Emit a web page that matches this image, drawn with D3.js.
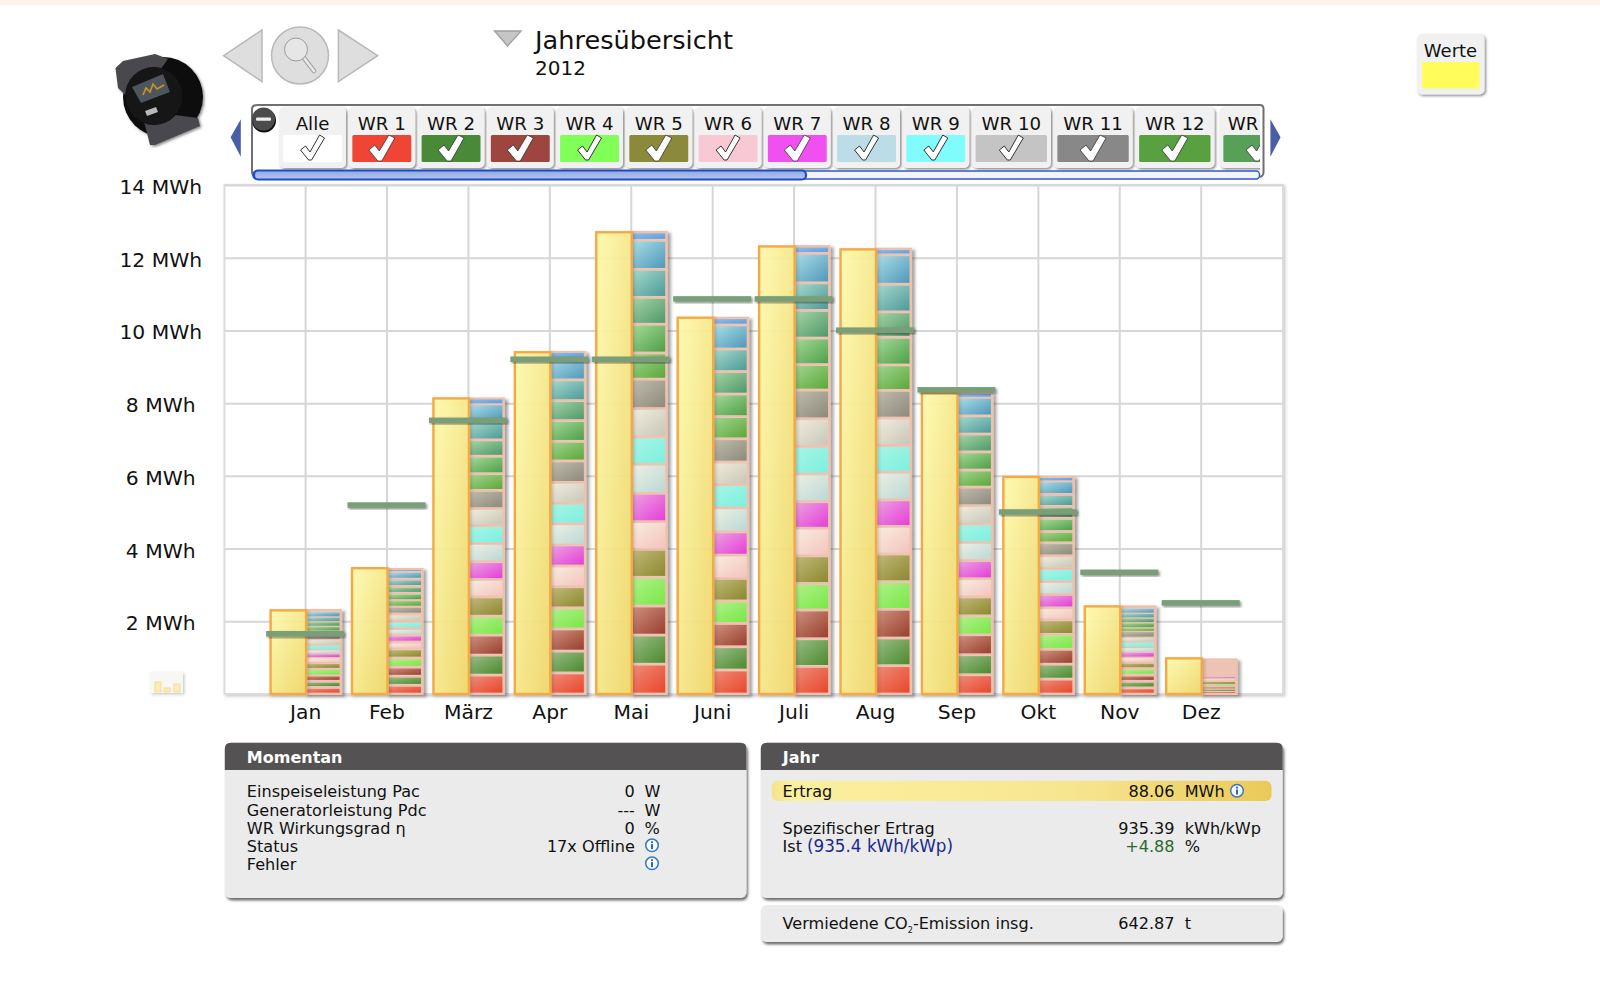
<!DOCTYPE html>
<html><head><meta charset="utf-8">
<script src="https://cdn.jsdelivr.net/npm/d3@7"></script>
<style>
html,body{margin:0;padding:0;background:#fff;overflow:hidden}
svg{display:block}
text{font-family:"DejaVu Sans",sans-serif;fill:#111}
</style></head><body>
<div id="chart"></div>
<script>
const months=["Jan","Feb","März","Apr","Mai","Juni","Juli","Aug","Sep","Okt","Nov","Dez"];
const yTicks=[2,4,6,8,10,12,14];
const totals=[2.30,3.46,8.13,9.40,12.70,10.35,12.31,12.23,8.28,5.97,2.41,0.98];
const targets=[1.65,5.19,7.52,9.20,9.20,10.86,10.86,10.00,8.36,5.00,3.34,2.50];
const wr1 =[.18,.24,.52,.58,.82,.66,.76,.78,.53,.41,.17,.07];
const wr2 =[.17,.25,.55,.60,.80,.64,.76,.76,.55,.41,.18,.07];
const wr3 =[.17,.25,.55,.61,.80,.64,.79,.79,.55,.41,.17,.06];
const wr4 =[.16,.25,.52,.58,.79,.62,.73,.76,.52,.41,.18,.06];
const wr5 =[.18,.25,.53,.58,.77,.62,.76,.76,.52,.40,.17,.09];
const wr6 =[.14,.19,.48,.57,.76,.64,.76,.76,.50,.33,.14,.07];
const wr7 =[.11,.19,.49,.58,.78,.64,.73,.73,.50,.37,.14,.06];
const wr8 =[.11,.18,.50,.58,.80,.66,.76,.76,.50,.35,.13,.05];
const wr9 =[.13,.20,.49,.57,.75,.64,.76,.73,.51,.36,.15,.05];
const wr10=[.15,.20,.47,.57,.78,.62,.76,.76,.50,.35,.13,.05];
const wr11=[.14,.21,.50,.59,.81,.64,.79,.76,.51,.36,.16,.05];
const wr12=[.09,.16,.46,.54,.72,.61,.70,.70,.47,.31,.10,.05];
const wr13=[.13,.20,.48,.57,.79,.62,.73,.76,.50,.36,.14,.05];
const wr14=[.13,.19,.45,.55,.74,.62,.76,.70,.49,.33,.13,.05];
const wr15=[.13,.20,.51,.57,.77,.62,.76,.76,.50,.33,.13,.05];
const wr16=[.14,.21,.48,.61,.80,.66,.81,.81,.51,.37,.14,.05];
const wr17=[.05,.07,.15,.16,.23,.20,.20,.17,.12,.11,.05,.02];
const allSeries=[wr1,wr2,wr3,wr4,wr5,wr6,wr7,wr8,wr9,wr10,wr11,wr12,wr13,wr14,wr15,wr16,wr17];
const segLight=["#ee8a78","#98bc86","#cf8e7e","#b0f08a","#c0b878","#f8ece0","#eca0e0","#eaf0e4","#a8f4e4","#f0ecdc","#c0bcac","#a0d490","#a4d898","#a4d4a4","#a4d8cc","#a8dce4","#8cc0ec"];
const segDark=["#e8472c","#4c8a2e","#98402e","#78e846","#8c8830","#f4c4bc","#e440d8","#bcd8d4","#7cf0e0","#c8c8b8","#8c8a7c","#5ca838","#4ea048","#50986a","#4e9a98","#5098bc","#5c9ce0"];
const tabLabels=["Alle","WR 1","WR 2","WR 3","WR 4","WR 5","WR 6","WR 7","WR 8","WR 9","WR 10","WR 11","WR 12","WR 13"];
const tabShort=["Alle","WR 1","WR 2","WR 3","WR 4","WR 5","WR 6","WR 7","WR 8","WR 9","WR 10","WR 11","WR 12","WR"];
const tabColors=["#ffffff","#f04535","#488a38","#9e4540","#80ff58","#8a8a3a","#f8c8d4","#f050f0","#bcdce8","#80fcfc","#c4c4c4","#888888","#58a040","#58a058"];
const tabThin=[true,false,false,false,true,false,true,false,true,true,true,false,false,false];

const W=1600,H=981;
const svg=d3.select("#chart").append("svg").attr("width",W).attr("height",H);
const defs=svg.append("defs");
function grad(id,a,b,x2=1,y2=1){
  const g=defs.append("linearGradient").attr("id",id).attr("x1",0).attr("y1",0).attr("x2",x2).attr("y2",y2);
  g.append("stop").attr("offset",0).attr("stop-color",a);
  g.append("stop").attr("offset",1).attr("stop-color",b);
}
function shadow(id,dx,dy,blur,op){
  const f=defs.append("filter").attr("id",id).attr("x","-20%").attr("y","-20%").attr("width","150%").attr("height","150%");
  f.append("feDropShadow").attr("dx",dx).attr("dy",dy).attr("stdDeviation",blur).attr("flood-color","#333").attr("flood-opacity",op);
}
shadow("sBar",3,2,1.6,.45);shadow("sPanel",1.5,2.5,1.2,.7);shadow("sTab",1.5,1.5,.8,.55);shadow("sPlot",1.5,1.5,1.5,.25);
grad("gYellow","#fffbb0","#f0d768");
segLight.forEach((c,i)=>grad("gs"+i,c,segDark[i]));
const eg=defs.append("linearGradient").attr("id","gErtrag").attr("x1",0).attr("x2",1).attr("y1",0).attr("y2",0);
[[0,"#f6e388"],[.04,"#fbf0a0"],[.6,"#f7e690"],[1,"#eac957"]].forEach(s=>eg.append("stop").attr("offset",s[0]).attr("stop-color",s[1]));
grad("gThumb","#8fa8e6","#b9c6ea",0,1);

// top strip
svg.append("rect").attr("width",W).attr("height",5.5).attr("fill","#fef3ea");

// device picture
const dev=svg.append("g").attr("id","device").attr("filter","url(#sTab)");
dev.append("circle").attr("cx",163).attr("cy",97).attr("r",40).attr("fill","#0d0d0f");
dev.append("path").attr("d","M115.5,68 L123,61 L155,54 L168,59 L160,70 L175,115 L198,118 L200,126 L155,145 L150,145 L145,125 L136,105 L118,88 Z").attr("fill","#48494e");
dev.append("circle").attr("cx",154).attr("cy",96).attr("r",29).attr("fill","#121215");
dev.append("path").attr("d","M132,87 L163,74 L170,92 L141,103 Z").attr("fill","#50555c");
dev.append("path").attr("d","M143,95 L146,88 L150,92 L153,84 L157,89 L164,85").attr("fill","none").attr("stroke","#c9962a").attr("stroke-width",1.6);
dev.append("path").attr("d","M145,111 L156,107 L158,112 L147,116 Z").attr("fill","#b8b8b8");

// navigation
const navFill="#dedede",navStroke="#b9b9b9";
svg.append("path").attr("d","M223.7,55.7 L262,30 L262,81.7 Z").attr("fill",navFill).attr("stroke",navStroke).attr("stroke-width",1.5);
svg.append("path").attr("d","M377.6,55.7 L338.4,30 L338.4,81.7 Z").attr("fill",navFill).attr("stroke",navStroke).attr("stroke-width",1.5);
svg.append("circle").attr("cx",300).attr("cy",55.5).attr("r",28.5).attr("fill",navFill).attr("stroke",navStroke).attr("stroke-width",1.5);
svg.append("path").attr("d","M304,58 L314,71").attr("stroke","#a2a2a2").attr("stroke-width",4.6).attr("stroke-linecap","round");
svg.append("path").attr("d","M304,58 L314,71").attr("stroke","#e8e8e8").attr("stroke-width",2.6).attr("stroke-linecap","round");
svg.append("circle").attr("cx",296).attr("cy",49.5).attr("r",11.5).attr("fill","#e6e6e6").attr("stroke","#9a9a9a").attr("stroke-width",1);

// title
svg.append("path").attr("d","M494.5,31 L521,31 L507.5,46 Z").attr("fill","#c6c6c6").attr("stroke","#a0a0a0").attr("stroke-width",1.4);
svg.append("text").attr("x",535).attr("y",49).attr("font-size",25.6).text("Jahresübersicht");
svg.append("text").attr("x",535).attr("y",75).attr("font-size",20).text("2012");

// scales and plot
const x=d3.scalePoint().domain(months).range([305.1,1200.7]);
const y=d3.scaleLinear().domain([0,14]).range([694,185]);
const halfBar=35.5;
const plotL=224.5,plotR=1283,plotT=y(14),plotB=y(0);
svg.append("rect").attr("x",plotL).attr("y",plotT).attr("width",plotR-plotL).attr("height",plotB-plotT)
  .attr("fill","#fff").attr("stroke","#dcdcdc").attr("stroke-width",2).attr("filter","url(#sPlot)");

const gy=svg.append("g").attr("transform",`translate(${plotL},0)`)
  .call(d3.axisLeft(y).tickValues(yTicks).tickSize(-(plotR-plotL)).tickFormat(d=>d+" MWh"));
gy.select(".domain").remove();
gy.selectAll("line").attr("stroke","#d6d6d6").attr("stroke-width",2);
gy.selectAll("text").attr("x",160.7-plotL).attr("dy",".42em").attr("text-anchor","middle").attr("font-size",20.3).attr("font-family",'"DejaVu Sans"').attr("fill","#111");

const gx=svg.append("g").attr("transform",`translate(0,${plotB})`)
  .call(d3.axisBottom(x).tickSize(-(plotB-plotT)).tickPadding(11));
gx.select(".domain").remove();
gx.selectAll("line").attr("stroke","#d6d6d6").attr("stroke-width",2);
gx.selectAll("text").attr("font-size",20.3).attr("font-family",'"DejaVu Sans"').attr("fill","#111");

// mini thumbnail
const mini=svg.append("g").attr("id","mini");
mini.append("rect").attr("x",150).attr("y",672).attr("width",33).attr("height",21).attr("fill","#f7f7f4").attr("filter","url(#sPlot)");
[[155,682,6,10],[164,688,6,4],[174,684,6,8]].forEach(r=>mini.append("rect").attr("x",r[0]).attr("y",r[1]).attr("width",r[2]).attr("height",r[3]).attr("fill","#fbeeb0").attr("stroke","#f6d9a0"));

// bars
const rows=months.map((m,i)=>{const o={month:m};allSeries.forEach((s,k)=>o["w"+k]=s[i]);return o;});
const stacked=d3.stack().keys(allSeries.map((s,k)=>"w"+k))(rows);
const barG=svg.append("g").attr("id","bars");
const stackTop=months.map((m,i)=>stacked[stacked.length-1][i][1]);
const stackG=barG.append("g").attr("filter","url(#sBar)");
stackG.selectAll("g").data(stacked).join("g").each(function(layer,k){
  const g=d3.select(this);
  g.selectAll("rect.o").data(layer).join("rect").attr("class","o")
    .attr("x",d=>x(d.data.month)+.5).attr("width",halfBar)
    .attr("y",d=>y(d[1])).attr("height",d=>y(d[0])-y(d[1])).attr("fill","#efc4b2");
  const inset=h=>h<2?h:(h<6?.7:1.4);
  g.selectAll("rect.i").data(layer).join("rect").attr("class","i")
    .attr("x",d=>x(d.data.month)+2).attr("width",halfBar-3)
    .attr("y",d=>y(d[1])+inset(y(d[0])-y(d[1])))
    .attr("height",d=>{const h=y(d[0])-y(d[1]);return Math.max(0,h-2*inset(h));})
    .attr("fill",`url(#gs${k})`);
});
stackG.selectAll("rect.frame").data(months).join("rect").attr("class","frame")
  .attr("x",m=>x(m)+.5).attr("width",halfBar)
  .attr("y",(m,i)=>y(stackTop[i])).attr("height",(m,i)=>y(0)-y(stackTop[i]))
  .attr("fill","none").attr("stroke","#efc0aa").attr("stroke-width",2);
barG.selectAll("rect.total").data(months).join("rect").attr("class","total")
  .attr("x",m=>x(m)-halfBar+1).attr("width",halfBar)
  .attr("y",(m,i)=>y(totals[i])).attr("height",(m,i)=>y(0)-y(totals[i]))
  .attr("fill","url(#gYellow)").attr("fill-opacity",.93).attr("stroke","#f5a944").attr("stroke-width",2.4).attr("filter","url(#sPlot)");
// target lines
svg.append("g").attr("id","targets").selectAll("rect").data(months).join("rect")
  .attr("x",m=>x(m)-39).attr("width",78)
  .attr("y",(m,i)=>y(targets[i])-3).attr("height",5.5)
  .attr("fill","#7a9f78").attr("filter","url(#sTab)");

// tab strip
svg.append("path").attr("d","M230.6,137.3 L240.8,119.3 L240.8,156.7 Z").attr("fill","#4a5ea8");
svg.append("path").attr("d","M1280.6,137.3 L1270.4,119.3 L1270.4,156.7 Z").attr("fill","#4a5ea8");
defs.append("clipPath").attr("id","tabClip").append("rect").attr("x",252).attr("y",104).attr("width",1008).attr("height",70);
svg.append("path").attr("d","M258,105 L1260,105 Q1263.5,105 1263.5,109 L1263.5,172 Q1263.5,176 1260,177 M257,176 Q252,176 252,172 L252,109 Q252,105 258,105")
  .attr("fill","#fff").attr("stroke","#707070").attr("stroke-width",2);
const tabsG=svg.append("g").attr("clip-path","url(#tabClip)");
let tx=279.1;
tabLabels.forEach((lab,i)=>{
  const w=lab.length>4&&i>0?79.4:66.9;
  const t=tabsG.append("g").attr("transform",`translate(${tx},107)`);
  t.append("rect").attr("width",w).attr("height",61).attr("rx",5).attr("fill","#f1f1f1").attr("filter","url(#sTab)");
  t.append("text").attr("x",i===13?w/2-16:w/2).attr("y",23).attr("text-anchor","middle").attr("font-size",18.2).text(tabShort[i]);
  t.append("rect").attr("x",4).attr("y",28).attr("width",w-8).attr("height",27).attr("rx",1.5).attr("fill",tabColors[i]);
  const cx=w/2;
  t.append("path").attr("transform",`translate(${cx},41)`)
    .attr("d",tabThin[i]?"M-12,2 L-7,-2 L-2.5,4 L7,-13 L12,-10 L-1,12 L-4,12 Z":"M-13,2 L-7,-3 L-2.5,3 L7,-13 L13,-10 L0,13 L-4,13 Z")
    .attr("fill","#fff").attr("stroke",tabThin[i]?"#333":"#222").attr("stroke-width",tabThin[i]?1:.7);
  tx+=w+2.35+(i===12?2.5:0);
});
svg.append("circle").attr("cx",264).attr("cy",120.5).attr("r",12).attr("fill","#0a0a0a");
svg.append("circle").attr("cx",263.5).attr("cy",119).attr("r",11.5).attr("fill","#4c4c4c");
svg.append("rect").attr("x",256).attr("y",117.5).attr("width",15).attr("height",3.2).attr("rx",1).attr("fill","#eee");
// scrollbar
svg.append("rect").attr("x",253).attr("y",171).attr("width",1006.5).attr("height",8).attr("rx",3.5).attr("fill","#f2f4fa").attr("stroke","#2f58c8").attr("stroke-width",1.5);
svg.append("rect").attr("x",254).attr("y",170.5).attr("width",552).attr("height",9).attr("rx",4).attr("fill","url(#gThumb)").attr("stroke","#1f4cc0").attr("stroke-width",2.2);

// Werte
svg.append("rect").attr("x",1417).attr("y",34).attr("width",67.5).attr("height",60.5).attr("rx",5).attr("fill","#f1f1f1").attr("filter","url(#sTab)");
svg.append("text").attr("x",1450.5).attr("y",57).attr("text-anchor","middle").attr("font-size",18).text("Werte");
svg.append("rect").attr("x",1422).attr("y",62).attr("width",57.5).attr("height",26.5).attr("rx",1.5).attr("fill","#fffc5c");

// panels
function panel(px,py,pw,ph,title){
  svg.append("rect").attr("x",px).attr("y",py).attr("width",pw).attr("height",ph).attr("rx",6).attr("fill","#ebebeb").attr("filter","url(#sPanel)");
  if(title){
    svg.append("path").attr("d",`M${px},${py+27.3} L${px},${py+6} Q${px},${py} ${px+6},${py} L${px+pw-6},${py} Q${px+pw},${py} ${px+pw},${py+6} L${px+pw},${py+27.3} Z`).attr("fill","#545253");
    svg.append("text").attr("x",px+22).attr("y",py+20).attr("font-size",16).attr("font-weight","bold").style("fill","#fff").text(title);
  }
}
function info(cx,cy){
  svg.append("circle").attr("cx",cx).attr("cy",cy).attr("r",6.3).attr("fill","#f7fbff").attr("stroke","#3a78c0").attr("stroke-width",1.5);
  svg.append("rect").attr("x",cx-1).attr("y",cy-1.2).attr("width",2).attr("height",5).attr("fill","#2a68b8");
  svg.append("rect").attr("x",cx-1).attr("y",cy-4).attr("width",2).attr("height",1.8).attr("fill","#2a68b8");
}
const fs=16.1;
function label(tx,ty,s,col){const t=svg.append("text").attr("x",tx).attr("y",ty).attr("font-size",fs).text(s);if(col)t.style("fill",col);return t;}
function value(tx,ty,s,col){label(tx,ty,s,col).attr("text-anchor","end");}

panel(224.8,742.7,521.7,155.3,"Momentan");
const lefts=["Einspeiseleistung Pac","Generatorleistung Pdc","WR Wirkungsgrad η","Status","Fehler"];
const mVals=["0","---","0","17x Offline",""];
const mUnits=["W","W","%","",""];
lefts.forEach((s,i)=>{
  const by=797.3+i*18.2;
  label(246.8,by,s); if(mVals[i]) value(634.8,by,mVals[i]);
  if(mUnits[i]) label(644.6,by,mUnits[i]);
});
info(652,845.3);info(652,863.3);

panel(760.8,742.7,521.9,155.3,"Jahr");
svg.append("rect").attr("x",771.8).attr("y",780.7).attr("width",499.7).attr("height",20.3).attr("rx",6).attr("fill","url(#gErtrag)");
label(782.5,797.3,"Ertrag");value(1174.6,797.3,"88.06");label(1184.7,797.3,"MWh");info(1237,790.7);
label(782.5,834,"Spezifischer Ertrag");value(1174.6,834,"935.39");label(1184.7,834,"kWh/kWp");
const ist=label(782.5,852,"Ist");ist.append("tspan").attr("dx",5).attr("font-size",16.8).style("fill","#1a2a8c").text("(935.4 kWh/kWp)");
value(1174.6,852,"+4.88","#2a6a2a");label(1184.7,852,"%");

panel(760.8,905,521.9,37);
const co=label(782.5,928.8,"Vermiedene CO");
co.append("tspan").attr("font-size",8).attr("dy",4).text("2");
co.append("tspan").attr("dy",-4).text("-Emission insg.");
value(1174.6,928.8,"642.87");label(1184.7,928.8,"t");
</script>
</body></html>
